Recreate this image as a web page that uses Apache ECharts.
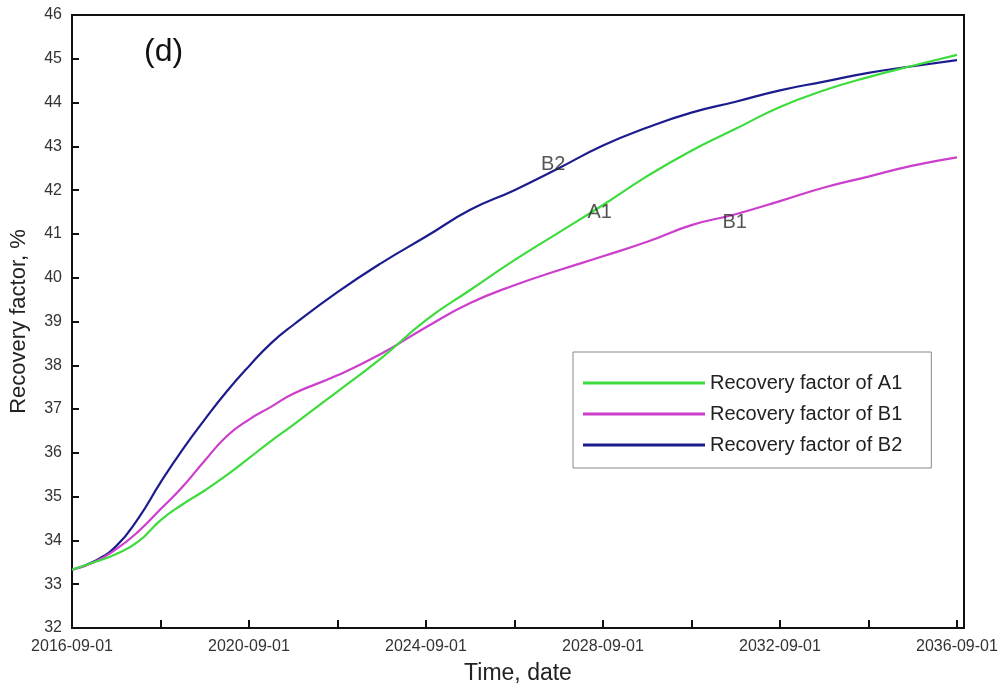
<!DOCTYPE html>
<html>
<head>
<meta charset="utf-8">
<script src="https://cdn.jsdelivr.net/npm/echarts@6/dist/echarts.min.js"></script>
<style>
  html, body { margin: 0; padding: 0; background: #fff; }
  #chart { width: 1004px; height: 690px; }
</style>
</head>
<body>
<div id="chart"></div>
<script>
// Sampling dates of the simulated forecast
const dates = [
  '2016-09-01', '2017-03-01', '2017-09-01', '2018-03-01', '2018-09-01',
  '2019-03-01', '2019-09-01', '2020-03-01', '2020-09-01', '2021-03-01',
  '2021-09-01', '2022-09-01', '2023-09-01', '2024-09-01', '2025-09-01',
  '2026-09-01', '2027-09-01', '2028-09-01', '2029-09-01', '2030-09-01',
  '2031-09-01', '2032-09-01', '2033-09-01', '2034-09-01', '2035-09-01',
  '2036-09-01'
];

// Recovery factor, %
const rfA1 = [
  33.33, 33.50, 33.69, 33.97, 34.46, 34.82, 35.14, 35.49, 35.88, 36.27,
  36.64, 37.40, 38.17, 39.03, 39.72, 40.40, 41.03, 41.66, 42.32, 42.90,
  43.40, 43.90, 44.28, 44.58, 44.84, 45.09
];
const rfB1 = [
  33.33, 33.50, 33.80, 34.20, 34.71, 35.22, 35.82, 36.38, 36.76, 37.05,
  37.35, 37.77, 38.27, 38.87, 39.42, 39.83, 40.17, 40.49, 40.82, 41.20,
  41.45, 41.75, 42.06, 42.31, 42.56, 42.75
];
const rfB2 = [
  33.33, 33.52, 33.87, 34.50, 35.32, 36.07, 36.76, 37.40, 37.98, 38.50,
  38.92, 39.67, 40.34, 40.94, 41.55, 42.00, 42.50, 43.02, 43.43, 43.77,
  44.02, 44.28, 44.48, 44.68, 44.83, 44.97
];

const seriesNames = ['Recovery factor of A1', 'Recovery factor of B1', 'Recovery factor of B2'];
const curveTags = [
  { text: 'A1', date: '2028-08-05', value: 41.5 },
  { text: 'B1', date: '2031-08-24', value: 41.27 },
  { text: 'B2', date: '2027-07-18', value: 42.58 }
];

const yTicks = { min: 32, max: 46, step: 1 };

// x values are days elapsed since the first date; labels convert them back
const DAY = 86400000;
const origin = Date.UTC(2016, 8, 1);
const toDays = s => { const p = s.split('-').map(Number); return (Date.UTC(p[0], p[1] - 1, p[2]) - origin) / DAY; };
const pad = n => (n < 10 ? '0' : '') + n;
const fmtDay = d => {
  const t = new Date(origin + Math.round(d) * DAY);
  return t.getUTCFullYear() + '-' + pad(t.getUTCMonth() + 1) + '-' + pad(t.getUTCDate());
};
const TWO_YEARS = 730.5;
const FONT = 'Liberation Sans, Arial, sans-serif';

const colors = ['#3ddc3d', '#cc3fcc', '#1c1c8e'];
const values = [rfA1, rfB1, rfB2];

const series = values.map((arr, i) => ({
  name: seriesNames[i],
  type: 'line',
  smooth: 0.5,
  symbol: 'none',
  showSymbol: false,
  data: arr.map((v, k) => [toDays(dates[k]), v]),
  lineStyle: { color: colors[i], width: 2.2 },
  itemStyle: { color: colors[i] },
  z: 5 - i
}));

// curve names written next to each line
series.push({
  type: 'scatter',
  symbolSize: 0,
  silent: true,
  data: curveTags.map(t => ({ value: [toDays(t.date), t.value], name: t.text })),
  label: {
    show: true,
    position: 'inside',
    formatter: p => p.name,
    fontFamily: FONT,
    fontSize: 20,
    color: '#2a2a2a'
  },
  z: 10
});

const chart = echarts.init(document.getElementById('chart'), null, { renderer: 'canvas' });
chart.setOption({
  backgroundColor: '#fff',
  animation: false,
  title: {
    text: '(d)',
    left: 139,
    top: 31,
    textStyle: { fontFamily: FONT, fontSize: 32, fontWeight: 'normal', color: '#111' }
  },
  grid: {
    left: 72, right: 40, top: 15, bottom: 62,
    containLabel: false,
    outerBoundsMode: 'none',
    show: true, borderColor: '#111', borderWidth: 2, backgroundColor: 'transparent'
  },
  legend: {
    data: seriesNames.map((n, i) => ({ name: n, icon: 'rect', itemStyle: { color: colors[i] } })),
    orient: 'vertical',
    left: 573,
    top: 352,
    padding: [21, 29, 13, 10],
    itemWidth: 122,
    itemHeight: 3,
    itemGap: 11,
    itemTextGap: 17,
    borderColor: '#888',
    borderWidth: 1,
    backgroundColor: '#fff',
    textStyle: { fontFamily: FONT, fontSize: 20, lineHeight: 20, color: '#222' }
  },
  xAxis: {
    type: 'value',
    min: 0,
    max: 7305 + 58,
    interval: TWO_YEARS,
    name: 'Time, date',
    nameLocation: 'middle',
    nameGap: 34,
    nameTextStyle: { fontFamily: FONT, fontSize: 23, color: '#222' },
    axisLine: { lineStyle: { color: '#111', width: 2 } },
    axisTick: { inside: true, length: 8, lineStyle: { color: '#111', width: 2 } },
    splitLine: { show: false },
    axisLabel: {
      margin: 11,
      fontFamily: FONT,
      fontSize: 16,
      color: '#333',
      showMaxLabel: false,
      formatter: v => {
        const k = Math.round(v / TWO_YEARS);
        if (Math.abs(v - k * TWO_YEARS) > 1 || k % 2 !== 0) return '';
        return fmtDay(v);
      }
    }
  },
  yAxis: {
    type: 'value',
    min: yTicks.min,
    max: yTicks.max,
    interval: yTicks.step,
    name: 'Recovery factor, %',
    nameLocation: 'middle',
    nameGap: 42,
    nameTextStyle: { fontFamily: FONT, fontSize: 22, color: '#222' },
    axisLine: { show: true, lineStyle: { color: '#111', width: 2 } },
    axisTick: { show: true, inside: true, length: 7, lineStyle: { color: '#111', width: 2 } },
    splitLine: { show: false },
    axisLabel: {
      margin: 10,
      fontFamily: FONT,
      fontSize: 16,
      color: '#333'
    }
  },
  series: series
});
</script>
</body>
</html>
